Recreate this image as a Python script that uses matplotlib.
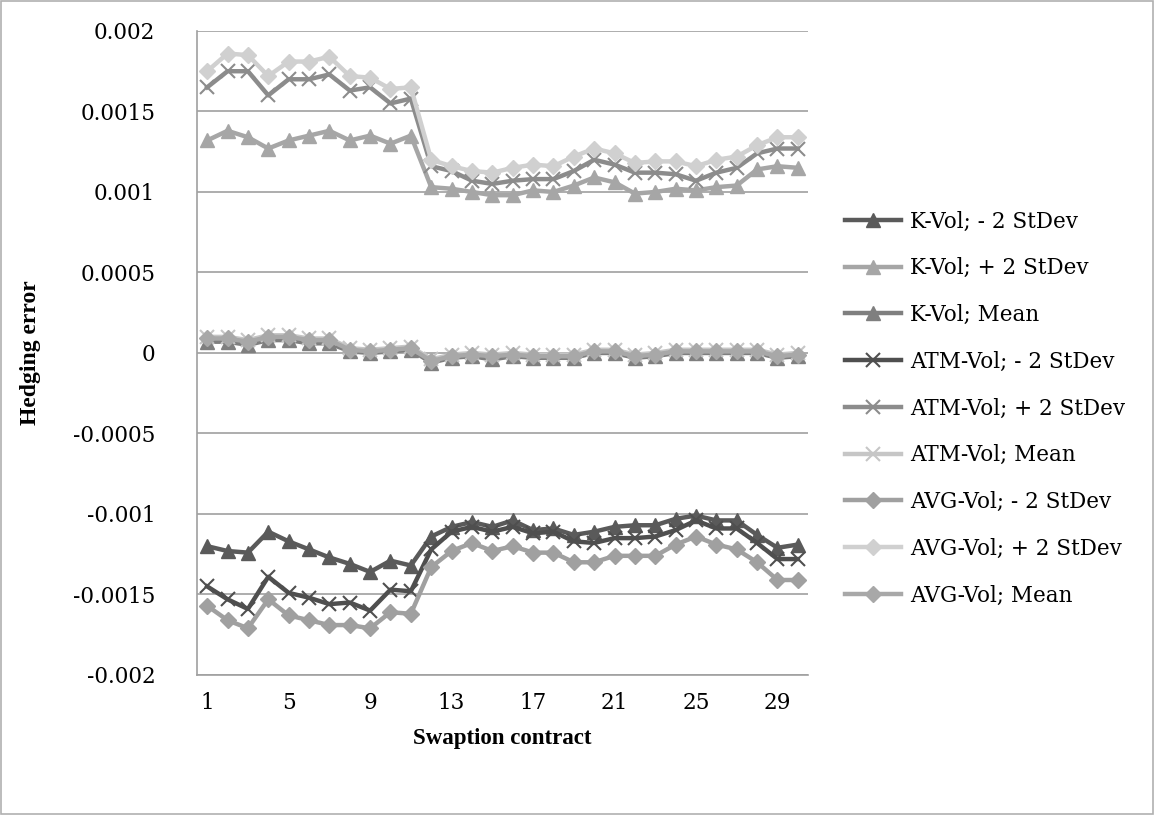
import matplotlib
matplotlib.use("Agg")
import matplotlib.pyplot as plt
import numpy as np

contracts = list(range(1, 31))

k_minus = [-0.00120, -0.00123, -0.00124, -0.00111, -0.00117, -0.00122, -0.00127, -0.00131, -0.00136, -0.00129,
           -0.00132, -0.00114, -0.00108, -0.00105, -0.00108, -0.00104, -0.00110, -0.00109, -0.00113, -0.00111,
           -0.00108, -0.00107, -0.00107, -0.00103, -0.00101, -0.00104, -0.00104, -0.00113, -0.00121, -0.00119]
k_plus = [0.00132, 0.00138, 0.00134, 0.00127, 0.00132, 0.00135, 0.00138, 0.00132, 0.00135, 0.00130,
          0.00135, 0.00103, 0.00102, 0.00100, 0.00098, 0.00098, 0.00101, 0.00100, 0.00104, 0.00109,
          0.00106, 0.00099, 0.00100, 0.00102, 0.00101, 0.00103, 0.00104, 0.00114, 0.00116, 0.00115]
k_mean = [0.00007, 0.00007, 0.00005, 0.00008, 0.00008, 0.00006, 0.00006, 0.00001, 0.00000, 0.00001,
          0.00002, -0.00006, -0.00003, -0.00002, -0.00004, -0.00002, -0.00003, -0.00003, -0.00003, 0.00000,
          0.00000, -0.00003, -0.00002, 0.00000, 0.00000, 0.00000, 0.00000, 0.00000, -0.00003, -0.00002]
atm_minus = [-0.00145, -0.00153, -0.00159, -0.00139, -0.00149, -0.00152, -0.00156, -0.00155, -0.00160, -0.00147,
             -0.00148, -0.00122, -0.00111, -0.00108, -0.00111, -0.00108, -0.00112, -0.00111, -0.00117, -0.00118,
             -0.00115, -0.00115, -0.00114, -0.00110, -0.00104, -0.00109, -0.00109, -0.00118, -0.00128, -0.00128]
atm_plus = [0.00165, 0.00175, 0.00175, 0.00160, 0.00170, 0.00170, 0.00173, 0.00163, 0.00165, 0.00155,
            0.00158, 0.00116, 0.00113, 0.00107, 0.00105, 0.00107, 0.00108, 0.00108, 0.00113, 0.00120,
            0.00117, 0.00112, 0.00112, 0.00111, 0.00107, 0.00112, 0.00115, 0.00124, 0.00127, 0.00127]
atm_mean = [0.00010, 0.00010, 0.00008, 0.00011, 0.00011, 0.00009, 0.00009, 0.00003, 0.00002, 0.00003,
            0.00004, -0.00004, -0.00001, 0.00000, -0.00001, 0.00000, -0.00001, -0.00001, -0.00001, 0.00002,
            0.00002, -0.00001, 0.00000, 0.00002, 0.00002, 0.00002, 0.00002, 0.00002, -0.00001, 0.00000]
avg_minus = [-0.00157, -0.00166, -0.00171, -0.00153, -0.00163, -0.00166, -0.00169, -0.00169, -0.00171, -0.00161,
             -0.00162, -0.00133, -0.00123, -0.00118, -0.00123, -0.00120, -0.00124, -0.00124, -0.00130, -0.00130,
             -0.00126, -0.00126, -0.00126, -0.00119, -0.00114, -0.00119, -0.00122, -0.00130, -0.00141, -0.00141]
avg_plus = [0.00175, 0.00186, 0.00185, 0.00172, 0.00181, 0.00181, 0.00184, 0.00172, 0.00171, 0.00164,
            0.00165, 0.00120, 0.00116, 0.00113, 0.00112, 0.00115, 0.00117, 0.00116, 0.00122, 0.00127,
            0.00124, 0.00118, 0.00119, 0.00119, 0.00116, 0.00120, 0.00122, 0.00129, 0.00134, 0.00134]
avg_mean = [0.00009, 0.00009, 0.00007, 0.00010, 0.00010, 0.00008, 0.00008, 0.00002, 0.00001, 0.00002,
            0.00003, -0.00005, -0.00002, -0.00001, -0.00002, -0.00001, -0.00002, -0.00002, -0.00002, 0.00001,
            0.00001, -0.00002, -0.00001, 0.00001, 0.00001, 0.00001, 0.00001, 0.00001, -0.00002, -0.00001]

y_ticks = [-0.002, -0.0015, -0.001, -0.0005, 0, 0.0005, 0.001, 0.0015, 0.002]
y_tick_labels = ["-0.002", "-0.0015", "-0.001", "-0.0005", "0", "0.0005", "0.001", "0.0015", "0.002"]
x_ticks = [1, 5, 9, 13, 17, 21, 25, 29]

series = [
    ("K-Vol; - 2 StDev", k_minus, "#5a5a5a", "^"),
    ("K-Vol; + 2 StDev", k_plus, "#a6a6a6", "^"),
    ("K-Vol; Mean", k_mean, "#7f7f7f", "^"),
    ("ATM-Vol; - 2 StDev", atm_minus, "#4f4f4f", "x"),
    ("ATM-Vol; + 2 StDev", atm_plus, "#8c8c8c", "x"),
    ("ATM-Vol; Mean", atm_mean, "#c6c6c6", "x"),
    ("AVG-Vol; - 2 StDev", avg_minus, "#a0a0a0", "D"),
    ("AVG-Vol; + 2 StDev", avg_plus, "#d0d0d0", "D"),
    ("AVG-Vol; Mean", avg_mean, "#a8a8a8", "D"),
]

plt.rcParams['font.family'] = ['DejaVu Serif']

fig = plt.figure(figsize=(11.54, 8.15), dpi=100)
ax = fig.add_axes([0.1707, 0.1718, 0.5295, 0.7902])

for label, vals, color, mk in series:
    ms = 10 if mk != "D" else 8
    mew = 1.5 if mk == "x" else 1
    ax.plot(contracts, vals, color=color, linewidth=3.2, marker=mk, markersize=ms,
            markeredgewidth=mew, markeredgecolor=color, markerfacecolor=color,
            label=label, solid_joinstyle='round')

ax.set_xlim(0.5, 30.5)
ax.set_ylim(-0.002, 0.002)
ax.set_yticks(y_ticks)
ax.set_yticklabels(y_tick_labels)
ax.set_xticks(x_ticks)
ax.set_xticklabels([str(i) for i in x_ticks])
ax.yaxis.grid(True, color="#a0a0a0", linewidth=1.2)
ax.set_axisbelow(True)
for s in ["top", "right"]:
    ax.spines[s].set_visible(False)
for s in ["left", "bottom"]:
    ax.spines[s].set_color("#a0a0a0")
    ax.spines[s].set_linewidth(1.2)
ax.tick_params(axis='both', length=0, labelsize=15.5)
ax.tick_params(axis='x', pad=12)
ax.tick_params(axis='y', pad=30)

ax.set_xlabel("Swaption contract", fontsize=16.5, fontweight='bold', labelpad=10,
              family='Liberation Serif')
ax.set_ylabel("Hedging error", fontsize=17, fontweight='bold', family='Liberation Serif')
ax.yaxis.set_label_coords(-0.255, 0.5)

leg = fig.legend(loc='center left', bbox_to_anchor=(0.725, 0.4988), frameon=False,
                 fontsize=15.5, handlelength=2.6, handletextpad=0.4, labelspacing=1.15,
                 borderaxespad=0)

fig.patches.append(plt.Rectangle((0.001, 0.001), 0.998, 0.998, transform=fig.transFigure,
                                 fill=False, edgecolor="#b0b0b0", linewidth=1.2))

fig.savefig("out.png", dpi=100)
